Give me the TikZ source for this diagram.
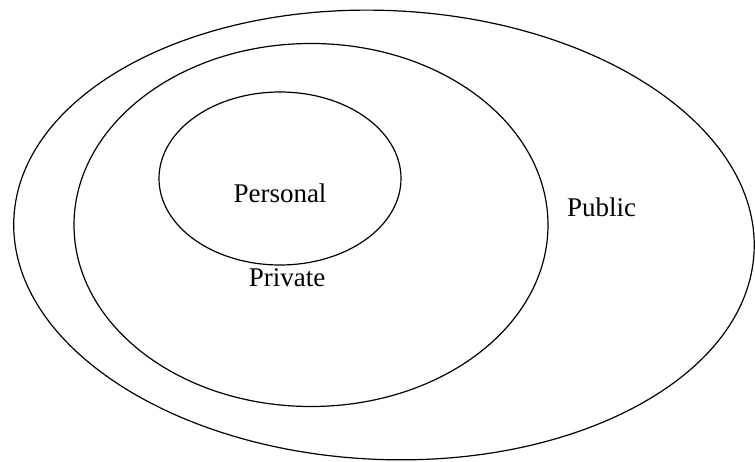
\documentclass[tikz,border=0pt]{standalone}
\usepackage{fontspec}
\setmainfont{Liberation Serif}
\usetikzlibrary{positioning}
\tikzset{
ring/.style={draw=black, line width=1.2pt},
sphere label/.style={font=\fontsize{27}{30}\selectfont, inner sep=0pt, anchor=base},
}

\begin{document}
\begin{tikzpicture}[
            x=1pt, y=-1pt
        ]
        \useasboundingbox (0,0) rectangle (755,462);

        \coordinate (PUB) at (384,235);
        \coordinate (PRI) at (311,225);
        \coordinate (PER) at (280,178.5);

        \draw[ring, rotate around={-2.5:(PUB)}] (PUB) ellipse [x radius=370.5, y radius=224.5];
        \draw[ring] (PRI) ellipse [x radius=237, y radius=181.5];
        \draw[ring] (PER) ellipse [x radius=121, y radius=86.5];

        \node[sphere label] (personal) at (280,203) {Personal};
        \node[sphere label] (private) at (287,287) {Private};
        \node[sphere label, anchor=base west] (public) at (567,217) {Public};
    \end{tikzpicture}
\end{document}
